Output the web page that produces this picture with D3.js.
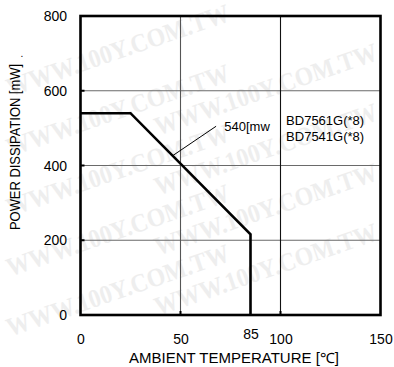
<!DOCTYPE html>
<html>
<head>
<meta charset="utf-8">
<script src="https://cdn.jsdelivr.net/npm/d3@7"></script>
<style>
html,body{margin:0;padding:0;background:#fff;}
svg{display:block;}
text{font-family:"Liberation Sans",Arial,sans-serif;fill:#000;}
</style>
</head>
<body>
<script>
// ---- data ----
const xTicks = [0, 50, 85, 100, 150];
const yTicks = [0, 200, 400, 600, 800];
const gridX = [50, 100];
const gridY = [200, 400, 600];
const curveTemp = [0, 25, 85, 85];
const curvePower = [540, 540, 216, 0];
const legendLines = ["BD7561G(*8)", "BD7541G(*8)"];
const annotation = "540[mw";
const xTitle = "AMBIENT TEMPERATURE [℃]";
const yTitle = "POWER DISSIPATION [mW]";
const watermark = "WWW.100Y.COM.TW";

const W = 394, H = 367;
const svg = d3.select("body").append("svg").attr("width", W).attr("height", H);

const x = d3.scaleLinear().domain([0, 150]).range([80.5, 380.5]);
const y = d3.scaleLinear().domain([0, 800]).range([315, 16]);

// ---- watermark (background): whole instances on parallel diagonal lines ----
const wm = svg.append("g");
const slope = Math.tan(19 * Math.PI / 180);
const wmLeftLines = [100, 160, 220, 280, 340];
const wmRightLines = [190, 250, 310, 370];
function wmText(x0, c) {
  wm.append("text")
    .attr("transform", `translate(${x0},${c - slope * x0}) rotate(-19)`)
    .style("font-family", "'Liberation Serif','Times New Roman',serif")
    .style("font-weight", "bold")
    .style("font-size", "26px")
    .style("fill", "#eeeeee")
    .attr("textLength", 234).attr("lengthAdjust", "spacingAndGlyphs")
    .text(watermark);
}
wmLeftLines.forEach(c => wmText(10, c));
wmRightLines.forEach(c => wmText(158, c));

// ---- grid ----
const g = svg.append("g");
g.selectAll(".gy").data(gridY).enter().append("line")
  .attr("x1", x(0)).attr("x2", x(150))
  .attr("y1", d => y(d)).attr("y2", d => y(d))
  .attr("stroke", "#6a6a6a").attr("stroke-width", 1.1);
g.selectAll(".gx").data(gridX).enter().append("line")
  .attr("x1", d => x(d)).attr("x2", d => x(d))
  .attr("y1", y(0)).attr("y2", y(800))
  .attr("stroke", (d, i) => i === 0 ? "#555" : "#111").attr("stroke-width", 1.1);

// small tick stubs
g.selectAll(".ty").data(gridY).enter().append("line")
  .attr("x1", x(0)).attr("x2", x(0) + 4)
  .attr("y1", d => y(d)).attr("y2", d => y(d))
  .attr("stroke", "#000").attr("stroke-width", 2);
g.selectAll(".tx").data(gridX).enter().append("line")
  .attr("x1", d => x(d)).attr("x2", d => x(d))
  .attr("y1", y(0)).attr("y2", y(0) - 4)
  .attr("stroke", "#000").attr("stroke-width", 2);

// frame
g.append("rect")
  .attr("x", x(0)).attr("y", y(800))
  .attr("width", x(150) - x(0)).attr("height", y(0) - y(800))
  .attr("fill", "none").attr("stroke", "#000").attr("stroke-width", 2.6);

// ---- curve ----
const pts = curveTemp.map((t, i) => [t, curvePower[i]]);
g.append("path")
  .attr("d", d3.line().x(d => x(d[0])).y(d => y(d[1]))(pts))
  .attr("fill", "none").attr("stroke", "#000").attr("stroke-width", 2.6)
  .attr("stroke-linejoin", "miter");

// ---- annotation ----
g.append("line")
  .attr("x1", x(46)).attr("y1", y(426))
  .attr("x2", x(67.8)).attr("y2", y(505))
  .attr("stroke", "#000").attr("stroke-width", 1);
g.append("text").attr("x", x(71.9)).attr("y", 131)
  .attr("font-size", 13).text(annotation);
g.selectAll(".lg").data(legendLines).enter().append("text")
  .attr("x", x(102.8)).attr("y", (d, i) => 125 + i * 16)
  .attr("font-size", 13).text(d => d);

// ---- tick labels ----
svg.selectAll(".yl").data(yTicks).enter().append("text")
  .attr("x", 67).attr("y", d => y(d) + 5)
  .attr("text-anchor", "end").attr("font-size", 14)
  .text(d => d);
svg.selectAll(".xl").data(xTicks).enter().append("text")
  .attr("x", d => x(d) + 0.5).attr("y", d => d === 85 ? 339 : 343.5)
  .attr("text-anchor", "middle").attr("font-size", 14)
  .text(d => d);

// ---- axis titles ----
svg.append("text").attr("x", 129).attr("y", 362.5)
  .attr("font-size", 14)
  .attr("textLength", 210).attr("lengthAdjust", "spacingAndGlyphs")
  .text(xTitle);
svg.append("text")
  .attr("transform", "translate(20,230) rotate(-90)")
  .attr("font-size", 14)
  .attr("textLength", 166).attr("lengthAdjust", "spacingAndGlyphs")
  .text(yTitle);
svg.append("text").attr("x", 20.5).attr("y", 57).attr("font-size", 10).text(".");
</script>
</body>
</html>
